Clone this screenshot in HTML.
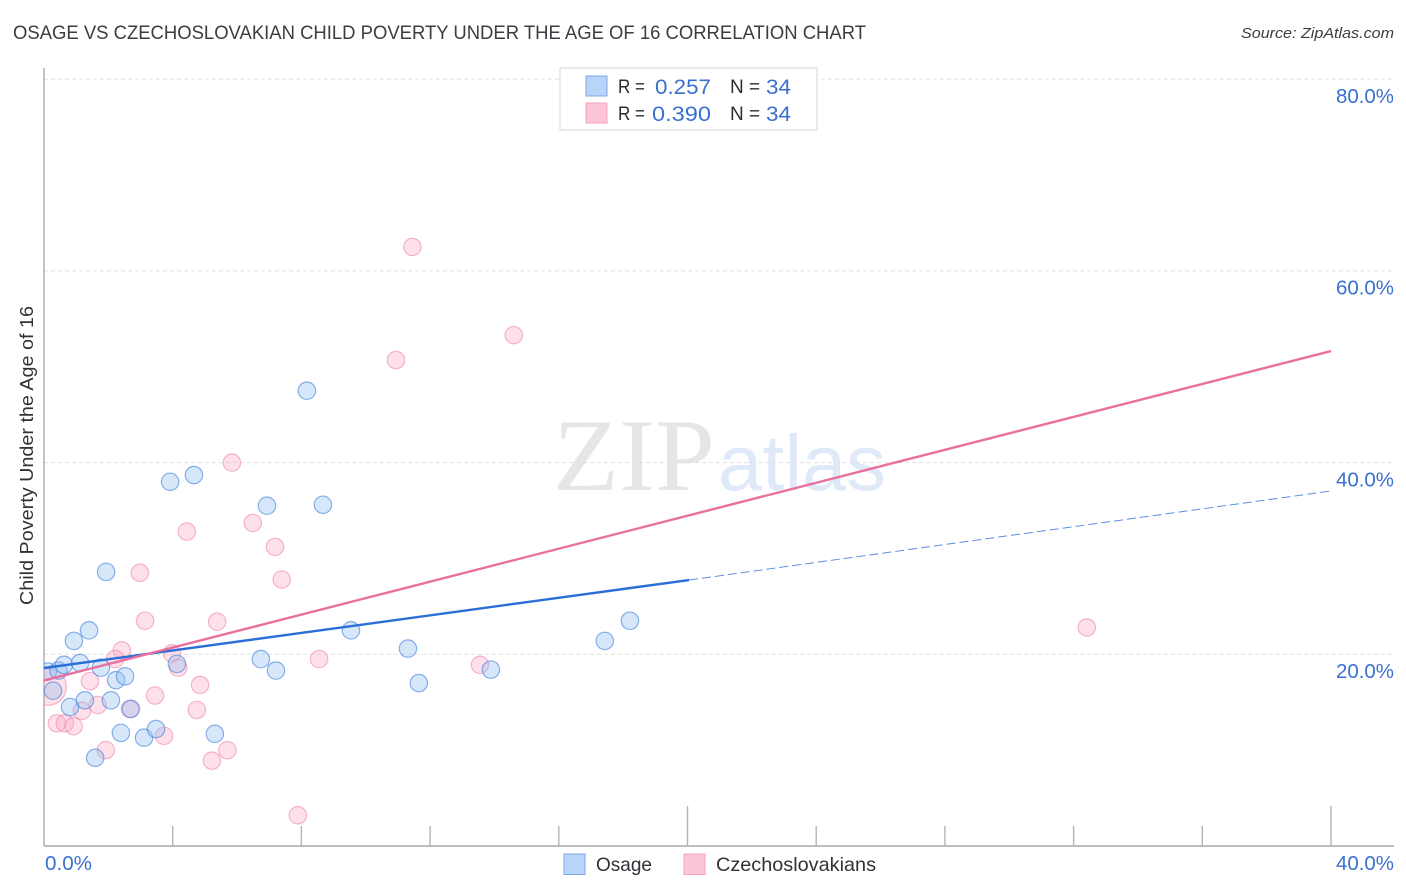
<!DOCTYPE html>
<html lang="en">
<head>
<meta charset="utf-8">
<title>Osage vs Czechoslovakian Child Poverty Correlation Chart</title>
<style>
html,body{margin:0;padding:0;background:#fff;width:1406px;height:892px;overflow:hidden}
svg{display:block}
text{font-family:"Liberation Sans",sans-serif}
</style>
</head>
<body>
<svg id="chart" xmlns="http://www.w3.org/2000/svg" width="1406" height="892" viewBox="0 0 1406 892">
  <defs><clipPath id="plot-clip"><rect x="44" y="60" width="1350" height="786"/></clipPath></defs>
  <rect width="1406" height="892" fill="#fff"/>
  <text x="13" y="39" font-size="19" fill="#3a3d42" textLength="853" lengthAdjust="spacingAndGlyphs">OSAGE VS CZECHOSLOVAKIAN CHILD POVERTY UNDER THE AGE OF 16 CORRELATION CHART</text>
  <text x="1394" y="38" font-size="15" font-style="italic" fill="#3a3d42" text-anchor="end" textLength="153" lengthAdjust="spacingAndGlyphs">Source: ZipAtlas.com</text>
  <g>
    <text x="553" y="490" style="font-family:'Liberation Serif',serif" font-size="103" fill="#e6e6e6" textLength="162" lengthAdjust="spacingAndGlyphs">ZIP</text>
    <text x="718" y="490" font-size="79" fill="#dfe9f8" textLength="168" lengthAdjust="spacingAndGlyphs">atlas</text>
  </g>
  <g id="grid"></g>
  <g id="axes"></g>
  <g id="marks" clip-path="url(#plot-clip)"></g>
  <g id="trends" clip-path="url(#plot-clip)"></g>
  <text transform="translate(33,455.5) rotate(-90)" font-size="18" fill="#2f3237" text-anchor="middle" textLength="299" lengthAdjust="spacingAndGlyphs">Child Poverty Under the Age of 16</text>
  <g>
    <rect x="560" y="68" width="257" height="62" fill="#fff" stroke="#dcdcdc" stroke-width="1.2"/>
    <rect x="586" y="76" width="21" height="20" fill="#b8d4f8" stroke="#7da9e6" stroke-width="1"/>
    <rect x="586" y="103" width="21" height="20" fill="#fbc6d8" stroke="#f3a3bf" stroke-width="1"/>
    <text x="618" y="93" font-size="19" fill="#2a2d33" textLength="27" lengthAdjust="spacingAndGlyphs">R =</text>
    <text x="655" y="94" font-size="21.5" fill="#3a70d0" textLength="56" lengthAdjust="spacingAndGlyphs">0.257</text>
    <text x="730" y="93" font-size="19" fill="#2a2d33">N =</text>
    <text x="766" y="94" font-size="21.5" fill="#3a70d0" textLength="25" lengthAdjust="spacingAndGlyphs">34</text>
    <text x="618" y="120" font-size="19" fill="#2a2d33" textLength="27" lengthAdjust="spacingAndGlyphs">R =</text>
    <text x="652" y="121" font-size="21.5" fill="#3a70d0" textLength="59" lengthAdjust="spacingAndGlyphs">0.390</text>
    <text x="730" y="120" font-size="19" fill="#2a2d33">N =</text>
    <text x="766" y="121" font-size="21.5" fill="#3a70d0" textLength="25" lengthAdjust="spacingAndGlyphs">34</text>
  </g>
  <g>
    <rect x="564" y="854" width="21" height="20.5" fill="#b8d4f8" stroke="#7da9e6" stroke-width="1"/>
    <text x="596" y="871" font-size="19.5" fill="#2f3237" textLength="56" lengthAdjust="spacingAndGlyphs">Osage</text>
    <rect x="684" y="854" width="21" height="20.5" fill="#fbc6d8" stroke="#f3a3bf" stroke-width="1"/>
    <text x="716" y="871" font-size="19.5" fill="#2f3237" textLength="160" lengthAdjust="spacingAndGlyphs">Czechoslovakians</text>
  </g>
</svg>
<script>
// Chart data (percent values)
const xTickValues = [0, 4, 8, 12, 16, 20, 24, 28, 32, 36, 40];
const xMajorTicks = [20, 40];
const xTickLabels = ["0.0%", "40.0%"];
const xLabelValues = [0, 40];
const yTickValues = [20, 40, 60, 80];
const yTickLabels = ["20.0%", "40.0%", "60.0%", "80.0%"];

const osageX = [0.12, 0.28, 0.45, 0.62, 0.81, 0.93, 1.12, 1.27, 1.40, 1.59, 1.77, 1.93, 2.08, 2.24, 2.39, 2.52, 2.70, 3.11, 3.48, 3.92, 4.13, 4.66, 5.31, 6.74, 6.93, 7.21, 8.17, 8.67, 9.54, 11.31, 11.65, 13.89, 17.43, 18.21];
const osageY = [18.2, 16.2, 18.3, 18.9, 14.5, 21.4, 19.1, 15.2, 22.5, 9.2, 18.6, 28.6, 15.2, 17.3, 11.8, 17.7, 14.3, 11.3, 12.2, 38.0, 19.0, 38.7, 11.7, 19.5, 35.5, 18.3, 47.5, 35.6, 22.5, 20.6, 17.0, 18.4, 21.4, 23.5];

const czechX = [11.45, 14.60, 10.94, 5.84, 6.49, 4.44, 7.18, 2.98, 7.39, 32.41, 3.14, 5.38, 2.42, 3.98, 2.21, 8.55, 13.55, 4.17, 1.43, 4.85, 3.45, 4.75, 1.67, 1.18, 2.67, 0.40, 0.65, 0.92, 3.73, 1.92, 5.70, 5.22, 7.89, 0.12];
const czechY = [62.5, 53.3, 50.7, 40.0, 33.7, 32.8, 31.2, 28.5, 27.8, 22.8, 23.5, 23.4, 20.4, 20.1, 19.5, 19.5, 18.9, 18.6, 17.2, 16.8, 15.7, 14.2, 14.7, 14.1, 14.3, 12.8, 12.8, 12.5, 11.5, 10.0, 10.0, 8.9, 3.2, 16.6];
const czechLargeIndex = 33;

const osageTrendX = [0, 20.05, 40];
const osageTrendY = [18.57, 27.75, 37.04];
const czechTrendX = [0, 40];
const czechTrendY = [17.27, 51.64];

// Axis functions
const xScale = v => 44 + v * 32.175;
const yScale = v => 846 - v * 9.585;
const NS = "http://www.w3.org/2000/svg";
function make(tag, attrs, parent) {
  const el = document.createElementNS(NS, tag);
  for (const k in attrs) el.setAttribute(k, attrs[k]);
  parent.appendChild(el);
  return el;
}
const grid = document.getElementById("grid");
const axes = document.getElementById("axes");
const marks = document.getElementById("marks");
const trends = document.getElementById("trends");

yTickValues.forEach((v, i) => {
  const line = make("line", {x1: 44, x2: 1394, y1: yScale(v), y2: yScale(v), stroke: "#e0e0e0", "stroke-width": 1, "stroke-dasharray": "4 3"}, grid);
  
  
  const label = make("text", {x: 1394, y: yScale(v) + 23.7, "font-size": 20, fill: "#3a70d0", "text-anchor": "end", textLength: 58, lengthAdjust: "spacingAndGlyphs"}, axes);
  label.textContent = yTickLabels[i];
  
  
});

const yAxis = make("line", {x1: 44, x2: 44, y1: 68, y2: 846, stroke: "#a8a8a8", "stroke-width": 1.4}, axes);


const xAxis = make("line", {x1: 44, x2: 1394, y1: 846, y2: 846, stroke: "#a8a8a8", "stroke-width": 1.4}, axes);



xTickValues.forEach(v => {
  if (v === 0) return;
  const top = xMajorTicks.includes(v) ? 806 : 826;
  const tick = make("line", {x1: xScale(v), x2: xScale(v), y1: top, y2: 846, stroke: "#b4b4b4", "stroke-width": 1.4}, axes);
  
  
});
xLabelValues.forEach((v, i) => {
  const label = make("text", {x: v === 0 ? xScale(v) + 1 : 1394, y: 870, "font-size": 20, fill: "#3a70d0", "text-anchor": v === 0 ? "start" : "end", textLength: v === 0 ? 47 : 58, lengthAdjust: "spacingAndGlyphs"}, axes);
  label.textContent = xTickLabels[i];
  
  
});

czechX.forEach((v, i) => {
  const dot = make("circle", {cx: xScale(v), cy: yScale(czechY[i]), r: i === czechLargeIndex ? 18.5 : 8.7, fill: "#f8a5c2", "fill-opacity": 0.35, stroke: "#ee7fa5", "stroke-opacity": 0.55, "stroke-width": 1.2}, marks);
  
  
});
osageX.forEach((v, i) => {
  const dot = make("circle", {cx: xScale(v), cy: yScale(osageY[i]), r: 8.7, fill: "#90bcf2", "fill-opacity": 0.36, stroke: "#3f80dc", "stroke-opacity": 0.6, "stroke-width": 1.2}, marks);
  
  
});

const osageSolid = make("line", {x1: xScale(osageTrendX[0]), y1: yScale(osageTrendY[0]), x2: xScale(osageTrendX[1]), y2: yScale(osageTrendY[1]), stroke: "#2a6fd8", "stroke-width": 2.4}, trends);


const osageDash = make("line", {x1: xScale(osageTrendX[1]), y1: yScale(osageTrendY[1]), x2: xScale(osageTrendX[2]), y2: yScale(osageTrendY[2]), stroke: "#5a90e0", "stroke-width": 1, "stroke-dasharray": "9 4"}, trends);


const czechLine = make("line", {x1: xScale(czechTrendX[0]), y1: yScale(czechTrendY[0]), x2: xScale(czechTrendX[1]), y2: yScale(czechTrendY[1]), stroke: "#e8709c", "stroke-width": 2.4}, trends);


</script>
</body>
</html>
